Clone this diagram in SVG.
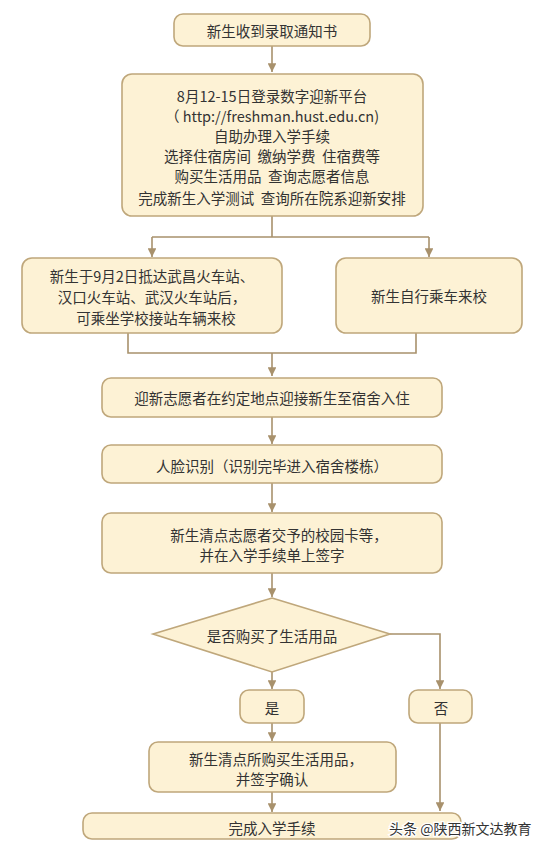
<svg xmlns="http://www.w3.org/2000/svg" width="541" height="849" viewBox="0 0 541 849">
<defs>
<style>
.n{fill:#fdf2d5;stroke:#bfa77b;stroke-width:1.6}
.t{font-family:"Noto Sans CJK SC","Noto Sans",sans-serif;font-size:14.5px;fill:#333;text-anchor:middle;dominant-baseline:central;white-space:pre}
.c{fill:none;stroke:#a8916c;stroke-width:1.6}
.wm{font-family:"Noto Sans CJK SC",sans-serif;font-size:14px;fill:#333;stroke:#fff;stroke-width:2.5;paint-order:stroke;dominant-baseline:central}
</style>
<marker id="ar" viewBox="0 0 10 10" refX="10" refY="5" markerWidth="5.5" markerHeight="5.5" markerUnits="strokeWidth" orient="auto">
<path d="M0,0L10,5L0,10z" fill="#a8916c"/>
</marker>
</defs>
<rect width="541" height="849" fill="#fff"/>
<g id="connectors">
<path class="c" d="M272,46V72" marker-end="url(#ar)"/>
<path class="c" d="M272,216V237H152M272,237H429"/>
<path class="c" d="M152,237V257" marker-end="url(#ar)"/>
<path class="c" d="M429,237V257" marker-end="url(#ar)"/>
<path class="c" d="M128,333V353H416V333"/>
<path class="c" d="M272,353V376" marker-end="url(#ar)"/>
<path class="c" d="M272,417V444" marker-end="url(#ar)"/>
<path class="c" d="M272,483V512" marker-end="url(#ar)"/>
<path class="c" d="M272,573V597" marker-end="url(#ar)"/>
<path class="c" d="M272,672V689" marker-end="url(#ar)"/>
<path class="c" d="M390,634H440V689" marker-end="url(#ar)"/>
<path class="c" d="M272,723V741" marker-end="url(#ar)"/>
<path class="c" d="M440,723V811" marker-end="url(#ar)"/>
<path class="c" d="M272,792V812" marker-end="url(#ar)"/>
</g>
<g id="n1"><rect class="n" x="174" y="14" width="196" height="32" rx="9"/><text class="t" x="272" y="30">新生收到录取通知书</text></g>
<g id="n2"><rect class="n" x="122" y="74" width="301" height="142" rx="10"/>
<text class="t" x="272" y="95">8月12-15日登录数字迎新平台</text>
<text class="t" x="272" y="115">（ http://freshman.hust.edu.cn)</text>
<text class="t" x="272" y="135">自助办理入学手续</text>
<text class="t" x="272" y="155" xml:space="preserve">选择住宿房间  缴纳学费  住宿费等</text>
<text class="t" x="272" y="175" xml:space="preserve">购买生活用品  查询志愿者信息</text>
<text class="t" x="272" y="197" xml:space="preserve">完成新生入学测试  查询所在院系迎新安排</text></g>
<g id="n3"><rect class="n" x="22" y="258" width="260" height="75" rx="10"/>
<text class="t" x="152" y="275">新生于9月2日抵达武昌火车站、</text>
<text class="t" x="152" y="296">汉口火车站、武汉火车站后，</text>
<text class="t" x="156" y="317">可乘坐学校接站车辆来校</text></g>
<g id="n4"><rect class="n" x="336" y="258" width="186" height="75" rx="10"/><text class="t" x="429" y="295">新生自行乘车来校</text></g>
<g id="n5"><rect class="n" x="102" y="378" width="340" height="39" rx="9"/><text class="t" x="272" y="397">迎新志愿者在约定地点迎接新生至宿舍入住</text></g>
<g id="n6"><rect class="n" x="102" y="445" width="340" height="38" rx="9"/><text class="t" x="272" y="465">人脸识别（识别完毕进入宿舍楼栋）</text></g>
<g id="n7"><rect class="n" x="102" y="513" width="340" height="60" rx="9"/>
<text class="t" x="279" y="534">新生清点志愿者交予的校园卡等，</text>
<text class="t" x="272" y="554">并在入学手续单上签字</text></g>
<g id="n8"><path class="n" d="M272,598L390,634L272,672L153,634Z"/><text class="t" x="272" y="635">是否购买了生活用品</text></g>
<g id="n9"><rect class="n" x="240" y="690" width="64" height="33" rx="9"/><text class="t" x="272" y="707">是</text></g>
<g id="n10"><rect class="n" x="409" y="690" width="63" height="33" rx="9"/><text class="t" x="441" y="707">否</text></g>
<g id="n11"><rect class="n" x="149" y="742" width="247" height="50" rx="9"/>
<text class="t" x="276" y="758">新生清点所购买生活用品，</text>
<text class="t" x="272" y="778">并签字确认</text></g>
<g id="n12"><rect class="n" x="83" y="813" width="378" height="26" rx="9"/><text class="t" x="272" y="827">完成入学手续</text></g>
<text class="wm" x="389" y="828">头条 @陕西新文达教育</text>
</svg>
